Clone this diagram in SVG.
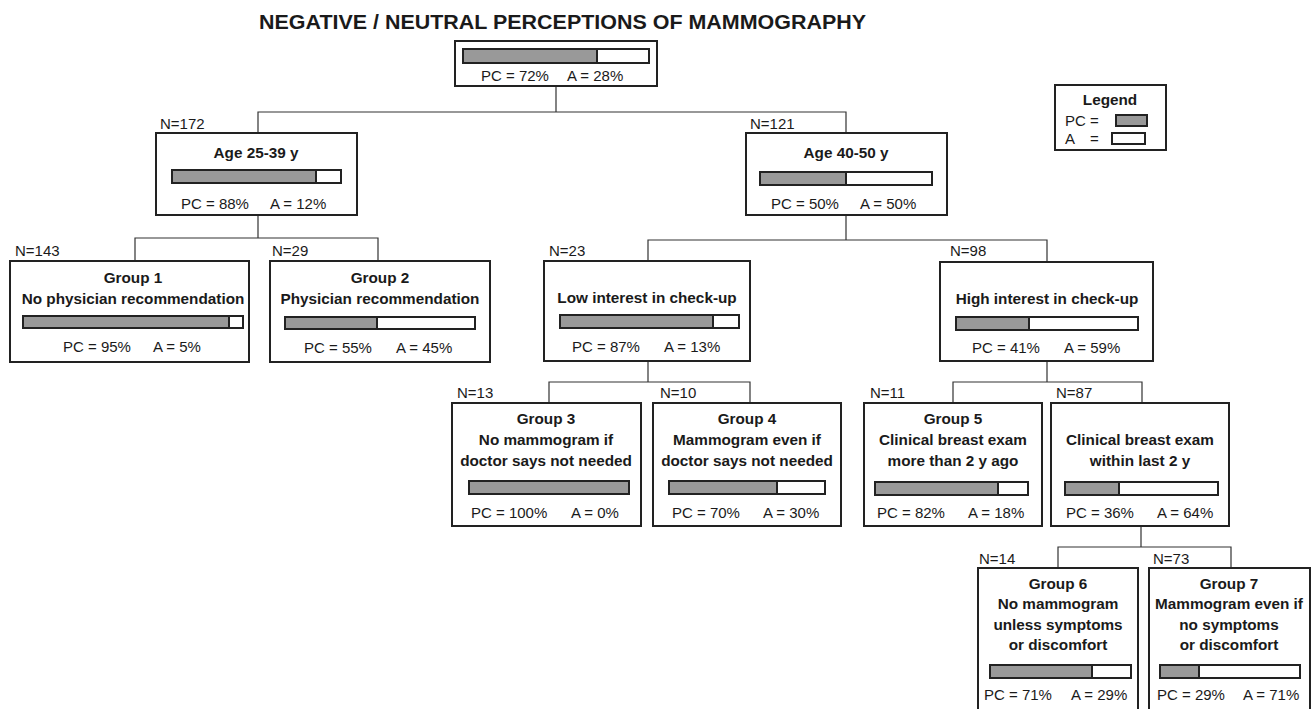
<svg xmlns="http://www.w3.org/2000/svg" width="1314" height="709" viewBox="0 0 1314 709">
<style>
text{font-family:"Liberation Sans",Arial,sans-serif;fill:#1a1a1a}
.t{font-size:20px;font-weight:bold}
.b{font-size:15.3px;font-weight:bold;text-anchor:middle}
.r{font-size:15px}
.n{font-size:15px}
.box{fill:#fff;stroke:#222;stroke-width:2}
.bar{fill:#fff;stroke:#222;stroke-width:2}
.pc{fill:#999;stroke:#222;stroke-width:2}
.c{fill:none;stroke:#333;stroke-width:1.2}
</style>
<rect width="1314" height="709" fill="#fff"/>
<text class="t" x="259" y="29" textLength="607" lengthAdjust="spacingAndGlyphs">NEGATIVE / NEUTRAL PERCEPTIONS OF MAMMOGRAPHY</text>
<g id="connectors">
<path class="c" d="M556 86V112M258 133V112H846V133"/>
<path class="c" d="M258 215V238M135 261V238H378V261"/>
<path class="c" d="M846 215V240M648 261V240H1047V261"/>
<path class="c" d="M648 361V382M549 403V382H750V403"/>
<path class="c" d="M1047 361V382M953 403V382H1142V403"/>
<path class="c" d="M1141 526V547M1058 568V547H1231V568"/>
</g>
<g id="root">
<rect class="box" x="455" y="41" width="202" height="45"/>
<rect class="bar" x="463" y="49" width="186" height="14"/>
<rect class="pc" x="463" y="49" width="134" height="14"/>
<text class="r" x="481" y="81">PC = 72%</text><text class="r" x="567" y="81">A = 28%</text>
</g>
<g id="legend">
<rect class="box" x="1055" y="85" width="111" height="65"/>
<text class="b" x="1110" y="105" font-size="14">Legend</text>
<text class="r" x="1065" y="126">PC =</text>
<rect class="pc" x="1116" y="115" width="31" height="11"/>
<text class="r" x="1065" y="144">A</text><text class="r" x="1090" y="144">=</text>
<rect class="bar" x="1112" y="133" width="33" height="11"/>
</g>
<g id="age2539">
<text class="n" x="160" y="129">N=172</text>
<rect class="box" x="156" y="133" width="201" height="82"/>
<text class="b" x="256" y="158">Age 25-39 y</text>
<rect class="bar" x="172" y="170" width="169" height="13"/>
<rect class="pc" x="172" y="170" width="144" height="13"/>
<text class="r" x="181" y="209">PC = 88%</text><text class="r" x="270" y="209">A = 12%</text>
</g>
<g id="age4050">
<text class="n" x="750" y="129">N=121</text>
<rect class="box" x="746" y="133" width="201" height="82"/>
<text class="b" x="846" y="158">Age 40-50 y</text>
<rect class="bar" x="760" y="172" width="172" height="13"/>
<rect class="pc" x="760" y="172" width="86" height="13"/>
<text class="r" x="771" y="209">PC = 50%</text><text class="r" x="860" y="209">A = 50%</text>
</g>
<g id="group1">
<text class="n" x="15" y="256">N=143</text>
<rect class="box" x="10" y="261" width="239" height="101"/>
<text class="b" x="133" y="283">Group 1</text>
<text class="b" x="133" y="304">No physician recommendation</text>
<rect class="bar" x="23" y="316" width="220" height="12"/>
<rect class="pc" x="23" y="316" width="206" height="12"/>
<text class="r" x="63" y="352">PC = 95%</text><text class="r" x="153" y="352">A = 5%</text>
</g>
<g id="group2">
<text class="n" x="272" y="256">N=29</text>
<rect class="box" x="270" y="261" width="220" height="101"/>
<text class="b" x="380" y="283">Group 2</text>
<text class="b" x="380" y="304">Physician recommendation</text>
<rect class="bar" x="285" y="317" width="190" height="12"/>
<rect class="pc" x="285" y="317" width="92" height="12"/>
<text class="r" x="304" y="353">PC = 55%</text><text class="r" x="396" y="353">A = 45%</text>
</g>
<g id="lowinterest">
<text class="n" x="549" y="256">N=23</text>
<rect class="box" x="544" y="261" width="206" height="100"/>
<text class="b" x="647" y="303">Low interest in check-up</text>
<rect class="bar" x="560" y="315" width="179" height="13"/>
<rect class="pc" x="560" y="315" width="153" height="13"/>
<text class="r" x="572" y="352">PC = 87%</text><text class="r" x="664" y="352">A = 13%</text>
</g>
<g id="highinterest">
<text class="n" x="950" y="256">N=98</text>
<rect class="box" x="940" y="262" width="213" height="99"/>
<text class="b" x="1047" y="304">High interest in check-up</text>
<rect class="bar" x="956" y="317" width="182" height="13"/>
<rect class="pc" x="956" y="317" width="73" height="13"/>
<text class="r" x="972" y="353">PC = 41%</text><text class="r" x="1064" y="353">A = 59%</text>
</g>
<g id="group3">
<text class="n" x="457" y="398">N=13</text>
<rect class="box" x="452" y="403" width="189" height="123"/>
<text class="b" x="546" y="424">Group 3</text>
<text class="b" x="546" y="445">No mammogram if</text>
<text class="b" x="546" y="466">doctor says not needed</text>
<rect class="pc" x="469" y="481" width="160" height="13"/>
<text class="r" x="471" y="518">PC = 100%</text><text class="r" x="571" y="518">A = 0%</text>
</g>
<g id="group4">
<text class="n" x="660" y="398">N=10</text>
<rect class="box" x="653" y="403" width="188" height="123"/>
<text class="b" x="747" y="424">Group 4</text>
<text class="b" x="747" y="445">Mammogram even if</text>
<text class="b" x="747" y="466">doctor says not needed</text>
<rect class="bar" x="669" y="481" width="156" height="13"/>
<rect class="pc" x="669" y="481" width="108" height="13"/>
<text class="r" x="672" y="518">PC = 70%</text><text class="r" x="763" y="518">A = 30%</text>
</g>
<g id="group5">
<text class="n" x="870" y="398">N=11</text>
<rect class="box" x="864" y="403" width="178" height="123"/>
<text class="b" x="953" y="424">Group 5</text>
<text class="b" x="953" y="445">Clinical breast exam</text>
<text class="b" x="953" y="466">more than 2 y ago</text>
<rect class="bar" x="875" y="482" width="153" height="13"/>
<rect class="pc" x="875" y="482" width="123" height="13"/>
<text class="r" x="877" y="518">PC = 82%</text><text class="r" x="968" y="518">A = 18%</text>
</g>
<g id="clinical">
<text class="n" x="1056" y="398">N=87</text>
<rect class="box" x="1051" y="403" width="178" height="123"/>
<text class="b" x="1140" y="445">Clinical breast exam</text>
<text class="b" x="1140" y="466">within last 2 y</text>
<rect class="bar" x="1065" y="482" width="153" height="13"/>
<rect class="pc" x="1065" y="482" width="54" height="13"/>
<text class="r" x="1066" y="518">PC = 36%</text><text class="r" x="1157" y="518">A = 64%</text>
</g>
<g id="group6">
<text class="n" x="979" y="564">N=14</text>
<rect class="box" x="978" y="568" width="160" height="145"/>
<text class="b" x="1058" y="589">Group 6</text>
<text class="b" x="1058" y="609">No mammogram</text>
<text class="b" x="1058" y="630">unless symptoms</text>
<text class="b" x="1058" y="650">or discomfort</text>
<rect class="bar" x="990" y="665" width="141" height="13"/>
<rect class="pc" x="990" y="665" width="102" height="13"/>
<text class="r" x="984" y="700">PC = 71%</text><text class="r" x="1071" y="700">A = 29%</text>
</g>
<g id="group7">
<text class="n" x="1153" y="564">N=73</text>
<rect class="box" x="1149" y="568" width="161" height="145"/>
<text class="b" x="1229" y="589">Group 7</text>
<text class="b" x="1229" y="609">Mammogram even if</text>
<text class="b" x="1229" y="630">no symptoms</text>
<text class="b" x="1229" y="650">or discomfort</text>
<rect class="bar" x="1160" y="665" width="140" height="13"/>
<rect class="pc" x="1160" y="665" width="39" height="13"/>
<text class="r" x="1157" y="700">PC = 29%</text><text class="r" x="1243" y="700">A = 71%</text>
</g>
</svg>
